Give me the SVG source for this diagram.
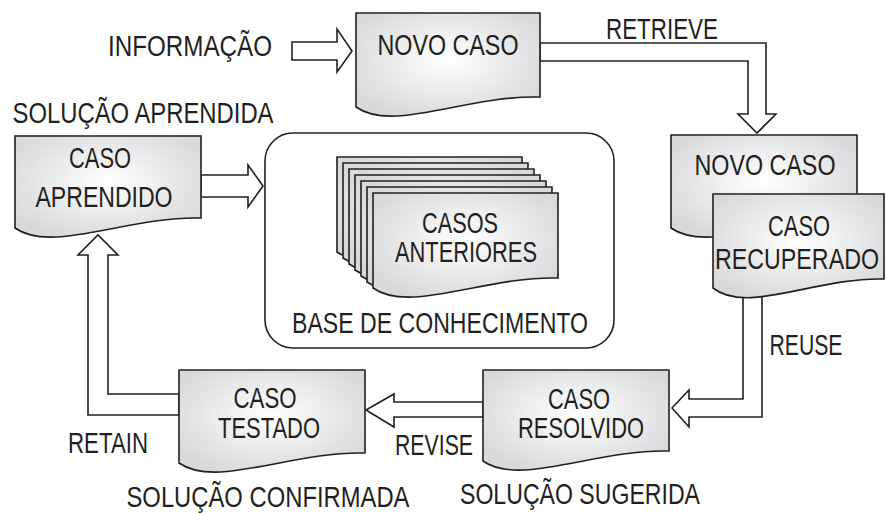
<svg xmlns="http://www.w3.org/2000/svg" width="886" height="513" viewBox="0 0 886 513">
<defs>
<radialGradient id="g" cx="0.5" cy="0.45" r="0.6">
<stop offset="0" stop-color="#ffffff"/>
<stop offset="1" stop-color="#d8d9db"/>
</radialGradient>
<style>
.doc{fill:url(#g);stroke:#231f20;stroke-width:1.6;stroke-linejoin:miter}
.arr{fill:#fff;stroke:#231f20;stroke-width:1.6;stroke-linejoin:miter}
.kb{fill:#fff;stroke:#231f20;stroke-width:1.6}
text{font-family:"Liberation Sans",Arial,sans-serif;font-size:30px;fill:#231f20;text-anchor:middle}
</style>
</defs>
<rect width="886" height="513" fill="#fff"/>
<g id="base">
<rect class="kb" x="265" y="133" width="349" height="215" rx="28"/>
<text x="440" y="333" textLength="296" lengthAdjust="spacingAndGlyphs">BASE DE CONHECIMENTO</text>
</g>
<g id="connectors">
<path class="arr" d="M292,42 H337 V29 L352,51 L337,72 V60 H292 Z"/>
<path class="arr" d="M540,43 H766 V114 H776 L757,133 L738,114 H748 V61 H540 Z"/>
<path class="arr" d="M201,175 H248 V165 L263,186 L248,207 V197 H201 Z"/>
<path class="arr" d="M743,280 V399 H689 V390 L672,408 L689,427 V417 H762 V280 Z"/>
<path class="arr" d="M483,402 H394 V394 L366,410 L394,427 V417 H483 Z"/>
<path class="arr" d="M179,394 H108 V255 H118 L98,235 L78,255 H88 V415 H179 Z"/>
</g>
<g id="informacao"><text x="190" y="56" textLength="164" lengthAdjust="spacingAndGlyphs">INFORMAÇÃO</text></g>
<g id="novo-caso">
<path class="doc" d="M356,13 H540 V97 C466,95 393,133 356,107 Z"/>
<text x="448" y="55" textLength="141" lengthAdjust="spacingAndGlyphs">NOVO CASO</text>
</g>
<g id="retrieve-label"><text x="662" y="39" textLength="112" lengthAdjust="spacingAndGlyphs">RETRIEVE</text></g>
<g id="caso-aprendido">
<text x="143" y="123" textLength="261" lengthAdjust="spacingAndGlyphs">SOLUÇÃO APRENDIDA</text>
<path class="doc" d="M15,136 H201 V218 C127,216 52,254 15,228 Z"/>
<text x="100" y="168" textLength="62" lengthAdjust="spacingAndGlyphs">CASO</text>
<text x="104" y="207" textLength="137" lengthAdjust="spacingAndGlyphs">APRENDIDO</text>
</g>
<g id="casos-anteriores">
<path class="doc" d="M337,157 H522 V242 C448,240 374,278 337,252 Z"/>
<path class="doc" d="M343,163 H528 V248 C454,246 380,284 343,258 Z"/>
<path class="doc" d="M349,169 H534 V254 C460,252 386,290 349,264 Z"/>
<path class="doc" d="M355,175 H540 V260 C466,258 392,296 355,270 Z"/>
<path class="doc" d="M361,181 H546 V266 C472,264 398,302 361,276 Z"/>
<path class="doc" d="M367,187 H552 V272 C478,270 404,308 367,282 Z"/>
<path class="doc" d="M373,193 H558 V278 C484,276 410,314 373,288 Z"/>
<text x="460" y="233" textLength="76" lengthAdjust="spacingAndGlyphs">CASOS</text>
<text x="466" y="262" textLength="142" lengthAdjust="spacingAndGlyphs">ANTERIORES</text>
</g>
<g id="novo-caso-2">
<path class="doc" d="M671,135 H857 V218 C783,216 708,254 671,228 Z"/>
<text x="765" y="175" textLength="141" lengthAdjust="spacingAndGlyphs">NOVO CASO</text>
</g>
<g id="caso-recuperado">
<path class="doc" d="M713,194 H884 V279 C816,277 747,315 713,288 Z"/>
<text x="799" y="236" textLength="62" lengthAdjust="spacingAndGlyphs">CASO</text>
<text x="797" y="269" textLength="164" lengthAdjust="spacingAndGlyphs">RECUPERADO</text>
</g>
<g id="reuse-label"><text x="806" y="355" textLength="73" lengthAdjust="spacingAndGlyphs">REUSE</text></g>
<g id="caso-resolvido">
<path class="doc" d="M483,370 H669 V451 C595,449 520,487 483,461 Z"/>
<text x="579" y="409" textLength="62" lengthAdjust="spacingAndGlyphs">CASO</text>
<text x="581" y="438" textLength="126" lengthAdjust="spacingAndGlyphs">RESOLVIDO</text>
<text x="580" y="504" textLength="240" lengthAdjust="spacingAndGlyphs">SOLUÇÃO SUGERIDA</text>
</g>
<g id="revise-label"><text x="434" y="455" textLength="78" lengthAdjust="spacingAndGlyphs">REVISE</text></g>
<g id="caso-testado">
<path class="doc" d="M179,370 H365 V453 C291,451 216,489 179,463 Z"/>
<text x="265" y="408" textLength="63" lengthAdjust="spacingAndGlyphs">CASO</text>
<text x="269" y="438" textLength="102" lengthAdjust="spacingAndGlyphs">TESTADO</text>
<text x="268" y="507" textLength="283" lengthAdjust="spacingAndGlyphs">SOLUÇÃO CONFIRMADA</text>
</g>
<g id="retain-label"><text x="108" y="453" textLength="80" lengthAdjust="spacingAndGlyphs">RETAIN</text></g>
</svg>
